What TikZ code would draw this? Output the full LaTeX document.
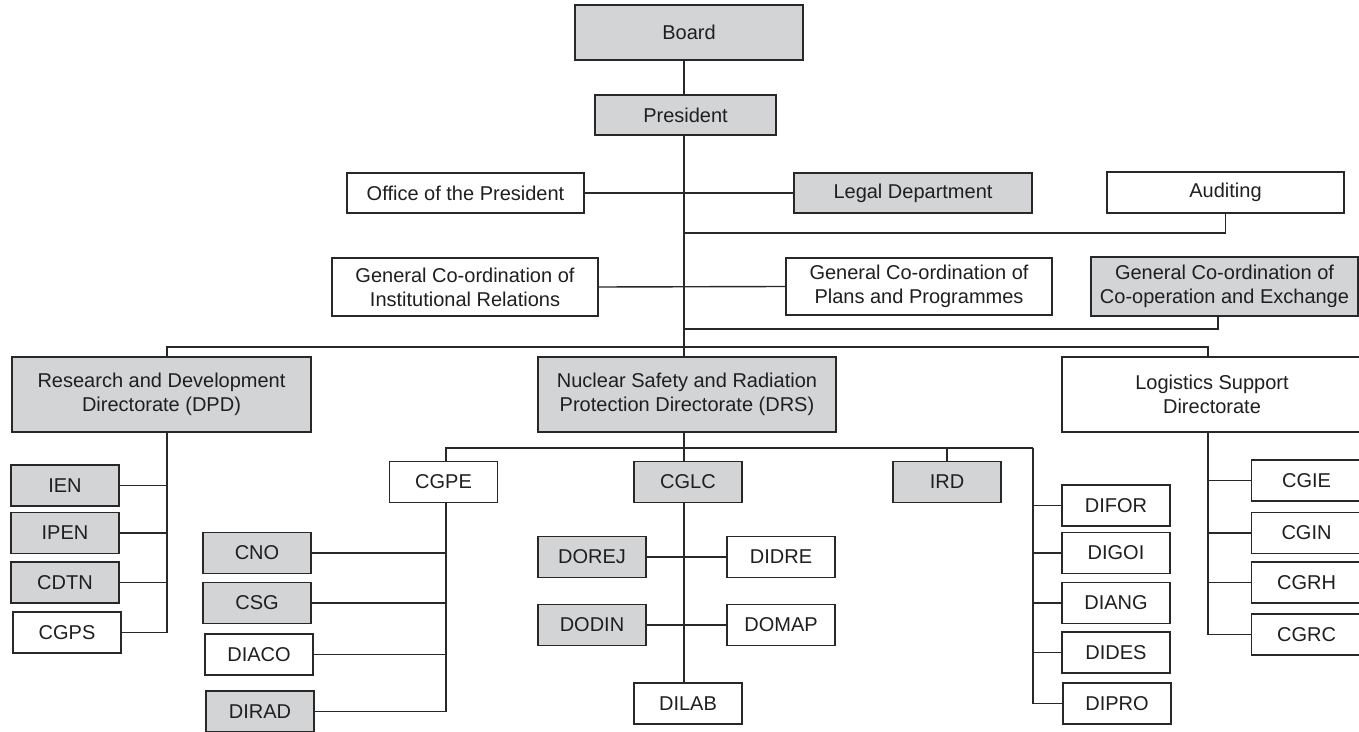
\documentclass[tikz,border=0pt]{standalone}
\usepackage{fontspec}
\setmainfont{Liberation Sans}
\usepackage{tikz}
\definecolor{boxgrey}{RGB}{211,212,214}
\definecolor{linegrey}{RGB}{40,40,40}

\begin{document}
\begin{tikzpicture}[x=0.5pt,y=-0.5pt,
  unit/.style={draw=linegrey, line width=0.9pt, inner sep=0pt, align=center, text=black!88, font=\fontsize{10}{12}\selectfont},
  shaded/.style={unit, fill=boxgrey},
  plain/.style={unit, fill=white},
  smallunit/.style={minimum width=54pt, minimum height=20.5pt},
  wire/.style={draw=linegrey, line width=0.7pt},
  trunkline/.style={draw=linegrey, line width=1pt}]

% to fix the page size
\useasboundingbox (0,0) rectangle (1359,732);
\clip (0,0) rectangle (1359,732);

% to write top of the chart
\node [shaded, minimum width=114pt, minimum height=27.5pt] (board) at (689,32.5) {Board};
\node [shaded, minimum width=90.5pt, minimum height=20pt] (president) at (685.5,115) {President};
\node [plain, minimum width=118.5pt, minimum height=20pt] (office) at (465.5,193) {Office of the President};
\node [shaded, minimum width=119pt, minimum height=20pt] (legal) at (913,193) {Legal Department};
\node [plain, minimum width=118.5pt, minimum height=20.5pt] (auditing) at (1225.5,192.5) {Auditing};
\node [plain, minimum width=133pt, minimum height=29pt] (institutional) at (465,287) {General Co-ordination of\\Institutional Relations};
\node [plain, minimum width=133pt, minimum height=28.5pt] (plans) at (919,286.5) {General Co-ordination of\\Plans and Programmes};
\node [shaded, minimum width=133.5pt, minimum height=29.5pt] (coop) at (1224.5,286.5) {General Co-ordination of\\Co-operation and Exchange};

% to write directorates
\node [shaded, minimum width=149.5pt, minimum height=37.5pt] (dpd) at (161.5,394.5) {Research and Development\\Directorate (DPD)};
\node [shaded, minimum width=149pt, minimum height=37.5pt] (drs) at (687,394.5) {Nuclear Safety and Radiation\\Protection Directorate (DRS)};
\node [plain, minimum width=150pt, minimum height=37.5pt] (lsd) at (1212,394.5) {Logistics Support\\Directorate};

%Research and Development side:
\node [shaded, smallunit] (ien) at (65,485.5) {IEN};
\node [shaded, smallunit] (ipen) at (65,533) {IPEN};
\node [shaded, smallunit] (cdtn) at (65,582.5) {CDTN};
\node [plain, smallunit] (cgps) at (67,632.5) {CGPS};

%Nuclear Safety side:
\node [plain, smallunit] (cgpe) at (443.5,482) {CGPE};
\node [shaded, smallunit] (cno) at (257,553) {CNO};
\node [shaded, smallunit] (csg) at (257,603) {CSG};
\node [plain, smallunit] (diaco) at (259,654.5) {DIACO};
\node [shaded, smallunit] (dirad) at (260,711.5) {DIRAD};

\node [shaded, smallunit] (cglc) at (688,482) {CGLC};
\node [shaded, smallunit] (dorej) at (592,557) {DOREJ};
\node [plain, smallunit] (didre) at (781,557) {DIDRE};
\node [shaded, smallunit] (dodin) at (592,625) {DODIN};
\node [plain, smallunit] (domap) at (781,625) {DOMAP};
\node [plain, smallunit] (dilab) at (688,703.5) {DILAB};

\node [shaded, smallunit] (ird) at (947,482) {IRD};
\node [plain, smallunit] (difor) at (1116,505.5) {DIFOR};
\node [plain, smallunit] (digoi) at (1116,553) {DIGOI};
\node [plain, smallunit] (diang) at (1116,603) {DIANG};
\node [plain, smallunit] (dides) at (1116,652.5) {DIDES};
\node [plain, smallunit] (dipro) at (1117,703.5) {DIPRO};

%Logistics Support side:
\node [plain, smallunit, minimum width=55pt] (cgie) at (1306.5,480.5) {CGIE};
\node [plain, smallunit, minimum width=55pt] (cgin) at (1306.5,533) {CGIN};
\node [plain, smallunit, minimum width=55pt] (cgrh) at (1306.5,582.5) {CGRH};
\node [plain, smallunit, minimum width=55pt] (cgrc) at (1306.5,634.5) {CGRC};

% to draw the trunk
\coordinate (trunk) at (684,0);
\draw [trunkline] (board.south -| trunk) -- (president.north -| trunk);
\draw [trunkline] (president.south -| trunk) -- (drs.north -| trunk);
\draw [wire] (office.east) -- (legal.west);
\draw [wire] (institutional.east) -- (plans.west);
\coordinate (auditjoin) at (684,233);
\draw [wire] (auditjoin) -| (auditing.south);
\coordinate (coopjoin) at (684,329);
\draw [wire] (coopjoin) -| ([xshift=-3.25pt]coop.south);

% to draw the bus to the directorates
\coordinate (busW) at (167,347);
\coordinate (busE) at (1208,347);
\draw [wire] (dpd.north -| busW) -- (busW) -- (busE) -- (lsd.north -| busE);

% Research and Development links
\draw [wire] (dpd.south -| busW) -- (cgps.east -| busW) -- (cgps.east);
\draw [wire] (ien.east) -- (ien.east -| busW);
\draw [wire] (ipen.east) -- (ipen.east -| busW);
\draw [wire] (cdtn.east) -- (cdtn.east -| busW);

% Nuclear Safety links
\coordinate (subW) at (446,448);
\coordinate (subE) at (1033,448);
\draw [wire] (cgpe.north -| subW) -- (subW) -- (subE);
\draw [wire] (ird.north) -- (ird.north |- subW);
\draw [trunkline] (drs.south -| trunk) -- (cglc.north -| trunk);
\draw [trunkline] (cglc.south -| trunk) -- (dilab.north -| trunk);
\draw [wire] (dorej.east) -- (didre.west);
\draw [wire] (dodin.east) -- (domap.west);

\draw [wire] (cgpe.south -| subW) -- (dirad.east -| subW) -- (dirad.east);
\draw [wire] (cno.east) -- (cno.east -| subW);
\draw [wire] (csg.east) -- (csg.east -| subW);
\draw [wire] (diaco.east) -- (diaco.east -| subW);

\draw [wire] (subE) -- (dipro.west -| subE) -- (dipro.west);
\draw [wire] (difor.west) -- (difor.west -| subE);
\draw [wire] (digoi.west) -- (digoi.west -| subE);
\draw [wire] (diang.west) -- (diang.west -| subE);
\draw [wire] (dides.west) -- (dides.west -| subE);

% Logistics Support links
\draw [wire] (lsd.south -| busE) -- (cgrc.west -| busE) -- (cgrc.west);
\draw [wire] (cgie.west) -- (cgie.west -| busE);
\draw [wire] (cgin.west) -- (cgin.west -| busE);
\draw [wire] (cgrh.west) -- (cgrh.west -| busE);
\end{tikzpicture}
\end{document}
